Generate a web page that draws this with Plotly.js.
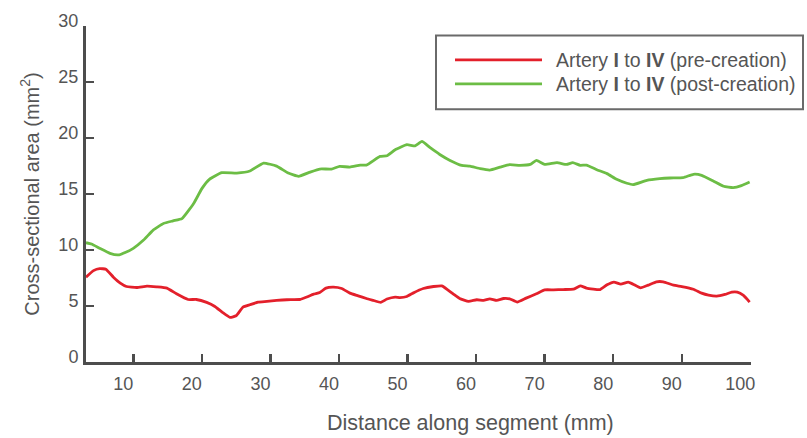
<!DOCTYPE html>
<html>
<head>
<meta charset="utf-8">
<script src="https://cdn.plot.ly/plotly-3.0.1.min.js"></script>
<style>html,body{margin:0;padding:0;background:#fff;}#chart{width:807px;height:438px;}</style>
</head>
<body>
<div id="chart"></div>
<script>
// Pre-creation (red)
var preX = [3.1,4.2,5.1,6.0,7.1,8.1,9.0,10.5,12.0,13.4,14.9,16.3,18.0,19.2,20.7,21.9,23.0,24.1,25.0,26.0,27.0,28.2,29.5,30.9,32.4,34.3,35.3,36.3,37.2,38.1,39.2,40.4,41.6,42.8,44.0,45.0,46.1,47.0,48.2,48.9,49.9,50.8,52.3,53.8,55.0,55.2,56.7,57.6,58.9,60.1,61.1,62.0,63.0,64.0,64.9,66.0,67.3,68.8,70.0,71.3,72.7,74.2,75.2,76.1,78.1,79.1,80.1,81.1,82.2,82.9,84.0,85.1,86.3,87.3,88.8,90.0,91.7,92.9,93.9,95.1,96.3,97.3,98.1,99.0,99.9];
var preY = [7.57,8.16,8.34,8.28,7.57,7.04,6.74,6.65,6.77,6.71,6.6,6.09,5.58,5.58,5.32,4.96,4.43,3.98,4.13,4.9,5.11,5.35,5.41,5.5,5.56,5.58,5.8,6.06,6.2,6.6,6.68,6.56,6.15,5.91,5.67,5.5,5.32,5.62,5.8,5.75,5.85,6.15,6.56,6.74,6.8,6.74,6.06,5.67,5.41,5.56,5.5,5.64,5.5,5.67,5.64,5.35,5.7,6.09,6.44,6.44,6.47,6.5,6.8,6.6,6.47,6.89,7.13,6.95,7.13,6.95,6.62,6.86,7.16,7.16,6.86,6.74,6.5,6.15,5.97,5.88,6.03,6.24,6.24,5.94,5.35];
// Post-creation (green)
var postX = [3.1,3.9,5.1,6.6,7.8,8.9,10.0,11.5,12.9,14.4,15.8,17.1,18.8,20.0,21.1,22.9,25.1,27.0,29.0,30.9,32.6,34.1,35.8,37.2,38.9,40.1,41.6,43.1,44.0,46.0,47.0,48.2,49.9,51.1,52.1,53.3,54.7,56.2,57.9,59.1,60.6,62.0,63.5,64.9,66.4,67.9,68.8,70.0,71.8,73.2,74.1,75.2,76.1,77.6,79.1,80.5,82.0,82.9,84.9,86.8,88.3,90.2,91.7,92.9,94.6,96.1,97.5,98.7,99.9];
var postY = [10.65,10.53,10.15,9.7,9.56,9.8,10.15,10.89,11.78,12.37,12.6,12.8,14.15,15.48,16.31,16.9,16.87,17.05,17.76,17.49,16.87,16.58,16.96,17.23,17.23,17.47,17.4,17.58,17.58,18.36,18.42,18.95,19.4,19.3,19.69,19.13,18.53,18.0,17.56,17.49,17.26,17.14,17.4,17.62,17.56,17.64,18.0,17.64,17.8,17.64,17.8,17.56,17.58,17.17,16.82,16.31,15.96,15.84,16.22,16.37,16.43,16.46,16.76,16.67,16.16,15.69,15.57,15.75,16.07];

var seriesNames = ['Artery <b>I</b> to <b>IV</b> (pre-creation)', 'Artery <b>I</b> to <b>IV</b> (post-creation)'];
var seriesColors = ['#e3202b', '#6cbd45'];
var xTicks = [10,20,30,40,50,60,70,80,90,100];
var yTicks = [0,5,10,15,20,25,30];
var xTitle = 'Distance along segment (mm)';
var yTitle = 'Cross-sectional area (mm<sup>2</sup>)';

var axisCol = '#4d4d4d';
var textCol = '#555555';
var fontFam = 'Liberation Sans, Arial, sans-serif';

var traces = [
  {x: preX, y: preY, type: 'scatter', mode: 'lines', name: seriesNames[0],
   line: {color: seriesColors[0], width: 2.8, shape: 'spline', smoothing: 0.4}, showlegend: false},
  {x: postX, y: postY, type: 'scatter', mode: 'lines', name: seriesNames[1],
   line: {color: seriesColors[1], width: 2.8, shape: 'spline', smoothing: 0.4}, showlegend: false}
];

// manual legend and x title (placement in paper coords)
var L = 86, R = 751, T = 25.5, B = 362.5;
function px(x){ return (x - L) / (R - L); }
function py(y){ return (B - y) / (B - T); }

var shapes = [
  {type: 'rect', xref: 'paper', yref: 'paper', x0: px(436), x1: px(803), y0: py(109), y1: py(35),
   line: {color: '#6a6a6a', width: 2}, fillcolor: 'rgba(0,0,0,0)'},
  {type: 'line', xref: 'paper', yref: 'paper', x0: px(455), x1: px(542), y0: py(59.5), y1: py(59.5),
   line: {color: seriesColors[0], width: 2.8}},
  {type: 'line', xref: 'paper', yref: 'paper', x0: px(455), x1: px(542), y0: py(83.5), y1: py(83.5),
   line: {color: seriesColors[1], width: 2.8}}
];
var annotations = [
  {xref: 'paper', yref: 'paper', x: px(554), y: py(59.5), xanchor: 'left', yanchor: 'middle',
   text: seriesNames[0], showarrow: false, font: {family: fontFam, size: 19.5, color: textCol}},
  {xref: 'paper', yref: 'paper', x: px(554), y: py(84), xanchor: 'left', yanchor: 'middle',
   text: seriesNames[1], showarrow: false, font: {family: fontFam, size: 19.5, color: textCol}},
  {xref: 'paper', yref: 'paper', x: px(470), y: py(424), xanchor: 'center', yanchor: 'middle',
   text: xTitle, showarrow: false, font: {family: fontFam, size: 21.5, color: textCol}}
];

var layout = {
  width: 807, height: 438,
  margin: {l: L, r: 807 - R, t: T, b: 438 - B},
  paper_bgcolor: '#ffffff', plot_bgcolor: '#ffffff',
  font: {family: fontFam, color: textCol, size: 18},
  showlegend: false,
  xaxis: {
    range: [3.1, 100.1], tickvals: xTicks, ticktext: xTicks.map(String),
    showgrid: false, zeroline: false, showline: true, linecolor: axisCol, linewidth: 3,
    ticks: 'inside', ticklen: 8, tickwidth: 2.5, tickcolor: axisCol,
    ticklabelshift: -10, ticklabelstandoff: 3,
    tickfont: {family: fontFam, size: 18, color: textCol}
  },
  yaxis: {
    range: [0, 30], tickvals: yTicks, ticktext: yTicks.map(String),
    showgrid: false, zeroline: false, showline: true, linecolor: axisCol, linewidth: 3,
    ticks: 'inside', ticklen: 8, tickwidth: 2.5, tickcolor: axisCol,
    ticklabelshift: -5, ticklabelstandoff: 1,
    tickfont: {family: fontFam, size: 18, color: textCol},
    title: {text: yTitle, font: {family: fontFam, size: 20, color: textCol}, standoff: 14}
  },
  shapes: shapes,
  annotations: annotations
};

Plotly.newPlot('chart', traces, layout, {displayModeBar: false, staticPlot: true});
</script>
</body>
</html>
